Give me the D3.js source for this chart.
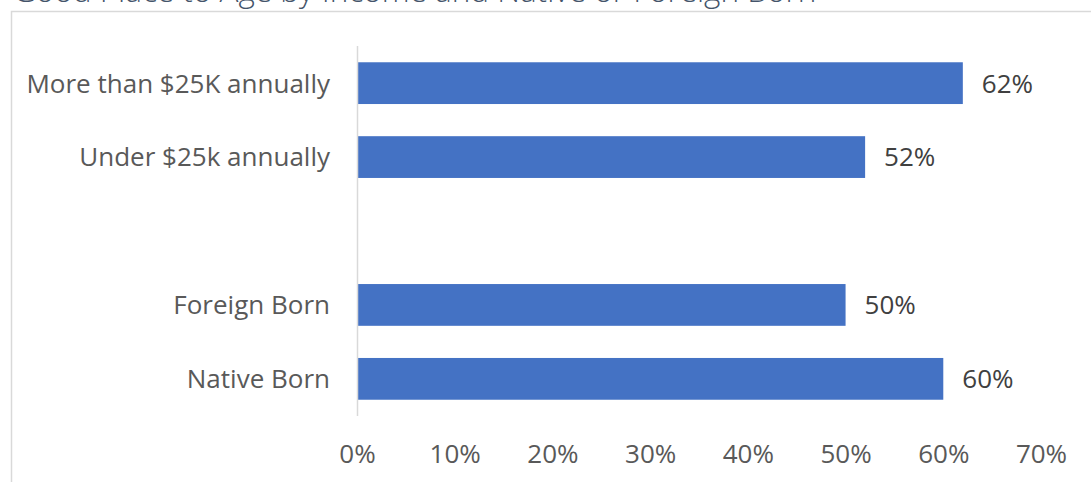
<!DOCTYPE html>
<html>
<head>
<meta charset="utf-8">
<script src="https://cdn.jsdelivr.net/npm/d3@7"></script>
<style>
  html, body { margin: 0; padding: 0; background: #fff; }
  svg { display: block; }
</style>
</head>
<body>
<svg id="chart" width="1091" height="482"></svg>
<script>
// Survey results: share saying their area is a good place to age
const title = "Good Place to Age by Income and Native or Foreign Born";
const categories = ["More than $25K annually", "Under $25k annually", " ", "Foreign Born", "Native Born"];
const values = [62, 52, null, 50, 60];
const tickValues = [0, 10, 20, 30, 40, 50, 60, 70];

const svg = d3.select("#chart");
const W = 1091, H = 482;
const font = "'Open Sans', 'Segoe UI', sans-serif";

// Chart frame (clipped at right and bottom by the canvas)
svg.append("path")
  .attr("d", `M11.5,${H} V11.5 H${W}`)
  .attr("fill", "none")
  .attr("stroke", "#d9d9d9")
  .attr("stroke-width", 1.5);

// Title
svg.append("text")
  .attr("x", 13)
  .attr("y", 1.5)
  .attr("font-family", font)
  .attr("font-weight", 300)
  .attr("font-size", 31.5)
  .attr("fill", "#44546a")
  .text(title);

const plot = { left: 357, top: 46, bottom: 416 };

const x = d3.scaleLinear().domain([0, 70]).range([plot.left, plot.left + 684]);
const y = d3.scaleBand().domain(categories).range([plot.top, plot.bottom]).paddingInner(0.435).paddingOuter(0.22);

const rows = categories.map((c, i) => ({ c, v: values[i] })).filter(d => d.v !== null);

// Bars
svg.append("g").selectAll("rect")
  .data(rows)
  .join("rect")
  .attr("x", x(0))
  .attr("y", d => y(d.c))
  .attr("width", d => x(d.v) - x(0))
  .attr("height", y.bandwidth())
  .attr("fill", "#4472c4");

// Vertical category axis line
svg.append("line")
  .attr("x1", x(0) + 0.5).attr("x2", x(0) + 0.5)
  .attr("y1", plot.top).attr("y2", plot.bottom)
  .attr("stroke", "#d9d9d9")
  .attr("stroke-width", 1.5);

// Category labels
svg.append("g").selectAll("text")
  .data(rows)
  .join("text")
  .attr("x", x(0) - 27)
  .attr("y", d => y(d.c) + y.bandwidth() / 2)
  .attr("dy", "0.36em")
  .attr("text-anchor", "end")
  .attr("font-family", font)
  .attr("font-size", 26)
  .attr("fill", "#595959")
  .text(d => d.c);

// Value labels
svg.append("g").selectAll("text")
  .data(rows)
  .join("text")
  .attr("x", d => x(d.v) + 19)
  .attr("y", d => y(d.c) + y.bandwidth() / 2)
  .attr("dy", "0.36em")
  .attr("font-family", font)
  .attr("font-size", 26)
  .attr("fill", "#404040")
  .text(d => d.v + "%");

// Value axis (labels only)
const xAxis = d3.axisBottom(x)
  .tickValues(tickValues)
  .tickSize(0)
  .tickPadding(0)
  .tickFormat(d => d + "%");

const gx = svg.append("g")
  .attr("transform", `translate(0, ${plot.bottom})`)
  .call(xAxis);
gx.select(".domain").remove();
gx.selectAll("text")
  .attr("font-family", font)
  .attr("font-size", 26)
  .attr("fill", "#595959")
  .attr("dy", null)
  .attr("y", 47);
</script>
</body>
</html>
